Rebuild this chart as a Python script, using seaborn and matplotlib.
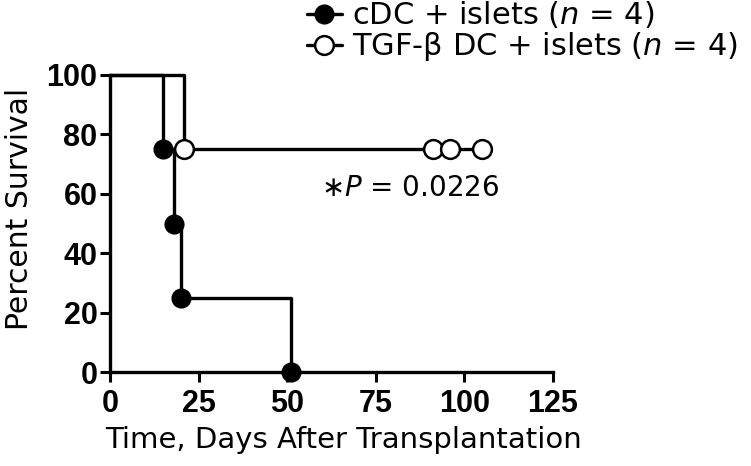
import matplotlib
matplotlib.use("Agg")
import matplotlib.pyplot as plt
from matplotlib.lines import Line2D
import seaborn as sns
import pandas as pd

# Data
cdc_times = [15, 18, 20, 51]
cdc_surv = [75, 50, 25, 0]
tgf_times = [21]
tgf_surv = [75]
tgf_censor_times = [91, 96, 105]
x_ticks = [0, 25, 50, 75, 100, 125]
y_ticks = [0, 20, 40, 60, 80, 100]
labels = ["cDC + islets ($n$ = 4)", "TGF-β DC + islets ($n$ = 4)"]

sns.set_theme(style="white")
plt.rcParams['font.family'] = ['DejaVu Sans']
plt.rcParams['mathtext.fontset'] = 'dejavusans'
plt.rcParams['text.color'] = 'black'
plt.rcParams['axes.labelcolor'] = 'black'

fig = plt.figure(figsize=(7.51, 4.66), dpi=100)
ax = fig.add_axes([110 / 751, 1 - 372 / 466, 443 / 751, 297 / 466])

def step_df(times, surv, end=None):
    xs = [0] + list(times)
    ys = [100] + list(surv)
    if end is not None:
        xs.append(end)
        ys.append(ys[-1])
    return pd.DataFrame({"t": xs, "s": ys})

cdc_df = step_df(cdc_times, cdc_surv)
tgf_df = step_df(tgf_times, tgf_surv, end=max(tgf_censor_times))

lw = 2.4
ms = 13.5
sns.lineplot(data=cdc_df, x="t", y="s", ax=ax, drawstyle="steps-post",
             color="black", lw=lw, clip_on=False, estimator=None, sort=False)
sns.lineplot(data=tgf_df, x="t", y="s", ax=ax, drawstyle="steps-post",
             color="black", lw=lw, clip_on=False, estimator=None, sort=False)

ax.plot(tgf_times + tgf_censor_times, tgf_surv + [tgf_surv[-1]] * len(tgf_censor_times),
        ls="none", marker="o", ms=ms, mfc="white", mec="black", mew=1.8, clip_on=False, zorder=5)
ax.plot(cdc_times, cdc_surv, ls="none", marker="o", ms=ms, mfc="black", mec="black",
        clip_on=False, zorder=6)

ax.set_xlim(0, 125)
ax.set_ylim(0, 100)
ax.set_xticks(x_ticks)
ax.set_yticks(y_ticks)
tick_font = dict(family=['Liberation Sans', 'DejaVu Sans'], weight='bold', size=22)
ax.set_xticklabels([str(v) for v in x_ticks], fontdict=tick_font)
ax.set_yticklabels([str(v) for v in y_ticks], fontdict=tick_font)
ax.tick_params(axis='both', direction='out', length=7, width=2.2, color='black',
               bottom=True, left=True, labelcolor='black')
ax.tick_params(axis='x', pad=5)
ax.tick_params(axis='y', pad=2)
for side in ['top', 'right']:
    ax.spines[side].set_visible(False)
for side in ['left', 'bottom']:
    ax.spines[side].set_linewidth(2.4)
    ax.spines[side].set_color('black')

ax.set_xlabel("Time, Days After Transplantation", fontsize=21, color='black')
ax.set_ylabel("Percent Survival", fontsize=21.5, color='black')
ax.xaxis.set_label_coords(0.528, -0.182)
ax.yaxis.set_label_coords(-0.172, 0.55)

ax.text(59.5, 62, "∗$P$ = 0.0226", fontsize=20, ha='left', va='center', color='black')

handles = [
    Line2D([], [], color='black', lw=lw, marker='o', ms=ms, mfc='black', mec='black'),
    Line2D([], [], color='black', lw=lw, marker='o', ms=ms, mfc='white', mec='black', mew=1.8),
]
fig.legend(handles, labels, loc='upper left', bbox_to_anchor=(305 / 751, 1.005), frameon=False,
           fontsize=22, handlelength=1.15, handletextpad=0.35, labelspacing=0.0,
           borderpad=0.05, borderaxespad=0.0, labelcolor='black')

fig.savefig("out.png", dpi=100)
